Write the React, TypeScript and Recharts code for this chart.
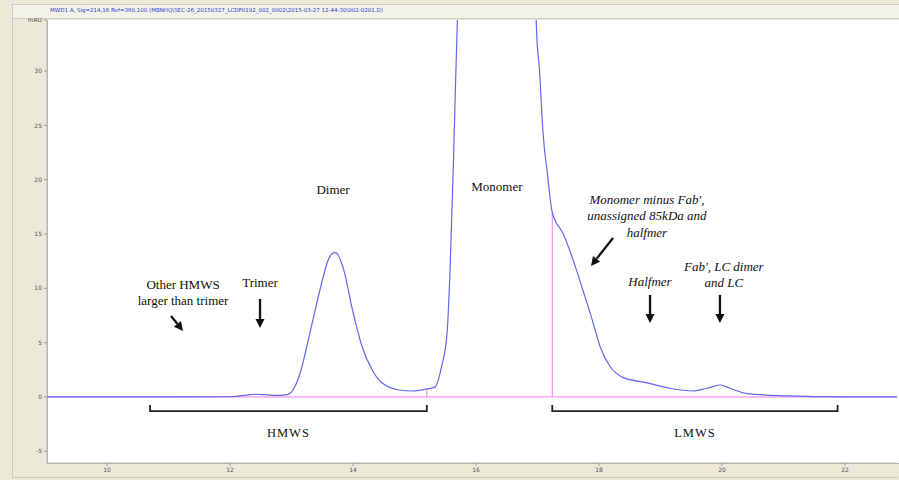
import React from 'react';
import { LineChart, Line, XAxis, YAxis, ReferenceLine, ReferenceDot } from 'recharts';

// retention time (min) and absorbance (mAU)
const times = [
  9.02, 10.0, 11.0, 12.0, 12.16, 12.3, 12.41, 12.55, 12.7, 12.9, 12.98, 13.06, 13.14, 13.3, 13.46,
  13.62, 13.71, 13.85, 13.98, 14.15, 14.31, 14.47, 14.75, 14.96, 15.2, 15.33, 15.44, 15.53, 15.58,
  15.63, 15.67, 15.75, 16.3, 16.93, 16.99, 17.03, 17.09, 17.16, 17.24, 17.42, 17.58, 17.74, 17.89,
  18.02, 18.18, 18.39, 18.78, 19.15, 19.53, 19.76, 19.97, 20.13, 20.41, 21.06, 21.97, 22.85,
];
const absorbance = [
  0, 0, 0, 0.02, 0.1, 0.2, 0.25, 0.22, 0.15, 0.2, 0.35, 1.0, 2.2, 5.9, 9.8,
  12.9, 13.3, 11.7, 8.3, 4.6, 2.5, 1.3, 0.64, 0.55, 0.74, 0.9, 2.8, 5.9, 12,
  21, 29.4, 45, 120, 45, 33, 30.3, 24.3, 20.6, 17, 15, 12.6, 9.8, 7.1,
  4.6, 2.8, 1.8, 1.3, 0.8, 0.55, 0.8, 1.1, 0.8, 0.3, 0.1, 0, 0,
];
const xTicks = [10, 12, 14, 16, 18, 20, 22];
const yTicks = [-5, 0, 5, 10, 15, 20, 25, 30, 34.7];

// integration drop lines and fraction brackets
const dropLines = [
  { t: 15.2, v: 0.74 },
  { t: 17.24, v: 17 },
];
const brackets = [
  { name: 'HMWS', from: 10.7, to: 15.2 },
  { name: 'LMWS', from: 17.24, to: 21.88 },
];

// peak annotations
const notes = [
  { t: 11.236, v: 9.94, lines: ['Other HMWS', 'larger than trimer'], italic: false },
  { t: 12.488, v: 10.13, lines: ['Trimer'], italic: false },
  { t: 13.675, v: 18.69, lines: ['Dimer'], italic: false },
  { t: 16.341, v: 18.97, lines: ['Monomer'], italic: false },
  { t: 18.78, v: 17.77, lines: ["Monomer minus Fab',", 'unassigned 85kDa and', 'halfmer'], italic: true },
  { t: 18.829, v: 10.22, lines: ['Halfmer'], italic: true },
  { t: 20.03, v: 11.6, lines: ["Fab', LC dimer", 'and LC'], italic: true },
];
const arrows = [
  { t1: 11.04, v1: 7.46, t2: 11.236, v2: 6.08 },
  { t1: 12.488, v1: 9.02, t2: 12.488, v2: 6.35 },
  { t1: 18.228, v1: 14.64, t2: 17.87, v2: 12.06 },
  { t1: 18.83, v1: 9.39, t2: 18.83, v2: 6.81 },
  { t1: 19.967, v1: 9.39, t2: 19.967, v2: 6.81 },
];

const data = times.map((t, i) => ({ t, v: absorbance[i] }));

const serif = '"Liberation Serif", "DejaVu Serif", serif';

const Arrow = (p: any) => {
  const { x1, y1, x2, y2 } = p;
  const a = Math.atan2(y2 - y1, x2 - x1);
  const len = 9;
  const w = 4.5;
  const bx = x2 - len * Math.cos(a);
  const by = y2 - len * Math.sin(a);
  const nx = -Math.sin(a) * w;
  const ny = Math.cos(a) * w;
  return (
    <g>
      <line x1={x1} y1={y1} x2={bx} y2={by} stroke="#111" strokeWidth={2.3} />
      <polygon points={`${x2},${y2} ${bx + nx},${by + ny} ${bx - nx},${by - ny}`} fill="#111" />
    </g>
  );
};

const Bracket = (p: any) => {
  const { x1, y1, x2 } = p;
  return (
    <path d={`M${x1},${y1 - 6} L${x1},${y1} L${x2},${y1} L${x2},${y1 - 6}`} fill="none" stroke="#222" strokeWidth={1.8} />
  );
};

const App = () => {
  return (
    <div style={{ position: 'absolute', left: 0, top: 0, width: 899, height: 480, background: '#ECE9D8', overflow: 'hidden' }}>
      <div style={{ position: 'absolute', left: 12, top: 4, width: 886, height: 13, background: '#F3F2E9', border: '1px solid #CFCCBC' }} />
      <div style={{ position: 'absolute', left: 50, top: 7, fontFamily: '"DejaVu Sans", sans-serif', fontSize: 5.5, color: '#2a3fcf', whiteSpace: 'nowrap' }}>
        MWD1 A, Sig=214,16 Ref=360,100 (MBNHQ\SEC-26_20150327_LCDP0192_002_0002\2015-03-27 12-44-30\002-0201.D)
      </div>
      <div style={{ position: 'absolute', left: 12, top: 19, width: 1, height: 458, background: '#CFCCBC' }} />
      <div style={{ position: 'absolute', left: 12, top: 477, width: 886, height: 1, background: '#CFCCBC' }} />
      <div style={{ position: 'absolute', left: 47, top: 20, width: 852, height: 443, background: '#FFFFFF', borderLeft: '1px solid #B8B6AA', borderBottom: '1px solid #B8B6AA' }} />
      <div style={{ position: 'absolute', left: 0, top: 0 }}>
        <LineChart width={899} height={480} data={data} margin={{ top: 20, right: 2, left: 0, bottom: 0 }}>
          <XAxis
            dataKey="t"
            type="number"
            domain={[9.024, 22.846]}
            allowDataOverflow
            ticks={xTicks}
            tickSize={3}
            tick={{ fontSize: 6, fill: '#555', fontFamily: '"DejaVu Sans", sans-serif' }}
            axisLine={{ stroke: '#B8B6AA' }}
            tickLine={{ stroke: '#999' }}
            height={17}
          />
          <YAxis
            type="number"
            domain={[-6.08, 34.7]}
            allowDataOverflow
            ticks={yTicks}
            interval={0}
            tickSize={3}
            tickFormatter={(v: number) => (v > 33 ? 'mAU' : String(v))}
            tick={{ fontSize: 6, fill: '#555', fontFamily: '"DejaVu Sans", sans-serif' }}
            axisLine={{ stroke: '#B8B6AA' }}
            tickLine={{ stroke: '#999' }}
            width={47}
          />
          <ReferenceLine y={0} segment={[{ x: 9.024, y: 0 }, { x: 21.97, y: 0 }]} stroke="#F27AF2" strokeWidth={1} />
          {dropLines.map((d, i) => (
            <ReferenceLine key={'d' + i} segment={[{ x: d.t, y: 0 }, { x: d.t, y: d.v }]} stroke="#F27AF2" strokeWidth={1} />
          ))}
          <Line
            type="monotoneX"
            dataKey="v"
            stroke="#6464EE"
            strokeWidth={1.2}
            dot={false}
            isAnimationActive={false}
          />
          {brackets.map((b) => (
            <ReferenceLine key={b.name} segment={[{ x: b.from, y: -1.3 }, { x: b.to, y: -1.3 }]} shape={Bracket} ifOverflow="extendDomain" />
          ))}
          {brackets.map((b) => (
            <ReferenceDot
              key={b.name + 'l'}
              x={(b.from + b.to) / 2}
              y={-3.7}
              r={0}
              shape={(p: any) => (
                <text x={p.cx} y={p.cy} textAnchor="middle" fontFamily={serif} fontSize={12.5} letterSpacing={1} fill="#111">
                  {b.name}
                </text>
              )}
            />
          ))}
          {arrows.map((a, i) => (
            <ReferenceLine key={'a' + i} segment={[{ x: a.t1, y: a.v1 }, { x: a.t2, y: a.v2 }]} shape={Arrow} />
          ))}
          {notes.map((n, i) => (
            <ReferenceDot
              key={'n' + i}
              x={n.t}
              y={n.v}
              r={0}
              shape={(p: any) => (
                <text x={p.cx} y={p.cy} textAnchor="middle" fontFamily={serif} fontSize={13} fontStyle={n.italic ? 'italic' : 'normal'} fill="#111">
                  {n.lines.map((l, j) => (
                    <tspan key={j} x={p.cx} dy={j === 0 ? 0 : 16.5}>
                      {l}
                    </tspan>
                  ))}
                </text>
              )}
            />
          ))}
        </LineChart>
      </div>
    </div>
  );
};

export default App;
